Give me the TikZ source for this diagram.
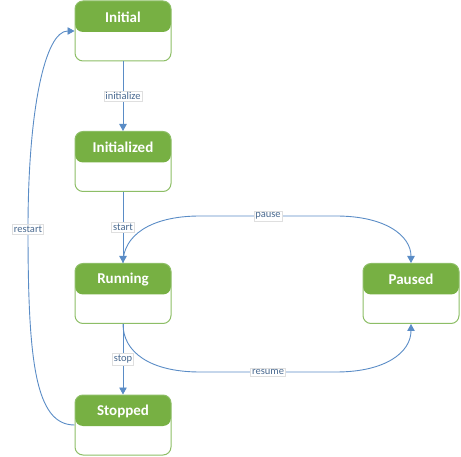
\documentclass[tikz,border=0pt]{standalone}
\usepackage{fontspec}
\setmainfont{Carlito}
\usetikzlibrary{arrows.meta,calc}
\definecolor{hdr}{HTML}{77B043}
\definecolor{bord}{HTML}{8DBE66}
\definecolor{edgec}{HTML}{5A8CC6}
\definecolor{lblc}{HTML}{4A6A90}
\tikzset{
  state/.style={rectangle, rounded corners=8pt, minimum width=96pt, minimum height=60pt,
    inner sep=0pt, draw=bord, line width=1pt, fill=white,
    path picture={
      \fill[hdr] (path picture bounding box.north west) rectangle ([yshift=-31pt]path picture bounding box.north east);
      \node[font=\bfseries\fontsize{15}{18}\selectfont, text=white] at ([yshift=-16pt]path picture bounding box.north) {#1};
    }},
  edgeline/.style={draw=edgec, line width=0.9pt, -{Triangle[length=7pt,width=7.5pt]}},
  lbl/.style={fill=white, draw=gray!25, line width=0.6pt, inner sep=1.5pt,
    font=\fontsize{10.5}{12}\selectfont, text=lblc}
}
\begin{document}
\begin{tikzpicture}[x=1pt,y=-1pt]
\useasboundingbox (0,0) rectangle (461,457);
\node[state=Initial] (init) at (123,31) {};
\node[state=Initialized] (initd) at (123,161.5) {};
\node[state=Running] (run) at (123,293.5) {};
\node[state=Paused] (paused) at (411,293.5) {};
\node[state=Stopped] (stop) at (123,425) {};

\draw[edgeline] (init.south) -- node[lbl]{initialize} (initd.north);
\draw[edgeline] (initd.south) -- node[lbl]{start} (run.north);
\draw[edgeline] (run.south) -- node[lbl]{stop} (stop.north);
\draw[edgeline] (run.north) .. controls (123,236) and (150,216) .. (200,216)
   -- node[lbl]{pause} (336,216) .. controls (386,216) and (411,236) .. (paused.north);
\draw[edgeline] (run.south) .. controls (123,352) and (150,372) .. (200,372)
   -- node[lbl]{resume} (336,372) .. controls (386,372) and (411,352) .. (paused.south);
\draw[edgeline] (stop.west) .. controls (35,425) and (28,360) .. (28,229)
   node[lbl]{restart} .. controls (28,110) and (45,31) .. (init.west);
\end{tikzpicture}
\end{document}
